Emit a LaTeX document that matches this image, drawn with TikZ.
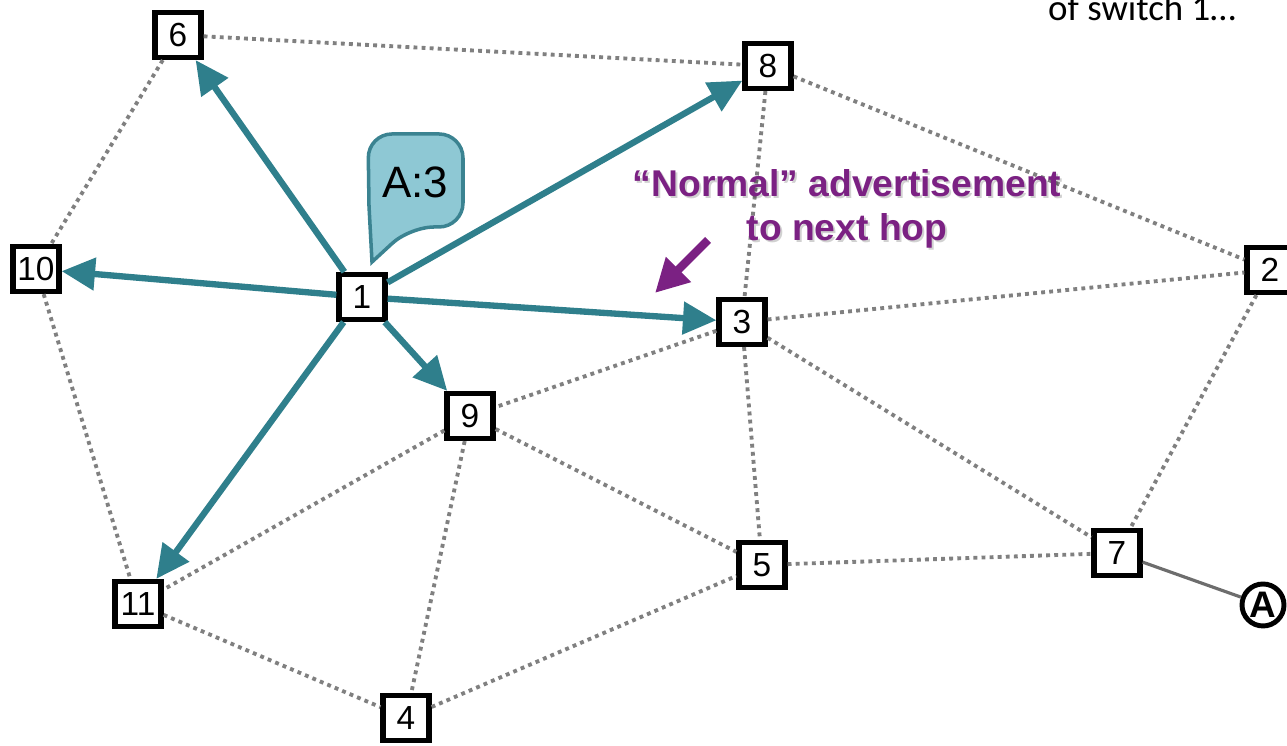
\documentclass[tikz,border=0pt]{standalone}
\usepackage{fontspec}
\setmainfont{Liberation Sans}
\newfontfamily\notefont{Carlito}
\usetikzlibrary{positioning,arrows.meta,shapes}

\definecolor{advteal}{RGB}{47,127,140}
\definecolor{bubblefill}{RGB}{142,200,212}
\definecolor{bubbleline}{RGB}{59,131,145}
\definecolor{linkgray}{RGB}{128,128,128}
\definecolor{hintpurple}{RGB}{123,33,131}

\begin{document}
\begin{tikzpicture}[
	%	style def
    switch/.style={draw=black, line width=1.5pt, fill=white, minimum width=0.46cm, minimum height=0.45cm, inner sep=0pt, font=\fontsize{9.5}{10}\selectfont},
    host/.style={draw=black, line width=1.4pt, fill=white, circle, minimum size=0.42cm, inner sep=0pt, font=\bfseries\fontsize{10.5}{11}\selectfont},
    link/.style={draw=linkgray, line width=1.1pt, dash pattern=on 1.1pt off 1.2pt},
    adv line/.style={draw=advteal, line width=1.8pt, -{Triangle[length=9.5pt,width=9pt]}},
    hint arrow/.style={draw=hintpurple, line width=2.4pt, -{Triangle[length=9.5pt,width=9.5pt]}},
    bubble/.style={draw=bubbleline, fill=bubblefill, line width=1pt}
    ]
    \useasboundingbox (0,0) rectangle (12.87,7.46);

	% switches
    \node[switch] (n6)  at (1.78,7.11) {6};
    \node[switch] (n8)  at (7.68,6.80) {8};
    \node[switch] (n10) at (0.36,4.77) {10};
    \node[switch] (n1)  at (3.62,4.49) {1};
    \node[switch] (n2)  at (12.70,4.76) {2};
    \node[switch] (n3)  at (7.42,4.24) {3};
    \node[switch] (n9)  at (4.70,3.30) {9};
    \node[switch] (n11) at (1.38,1.42) {11};
    \node[switch] (n5)  at (7.62,1.81) {5};
    \node[switch] (n7)  at (11.17,1.93) {7};
    \node[switch] (n4)  at (4.06,0.28) {4};
    \node[host]   (hostA) at (12.63,1.41) {A};

    % links (dotted)
    \draw[link] (n6) -- (n8);
    \draw[link] (n6) -- (n10);
    \draw[link] (n10) -- (n11);
    \draw[link] (n8) -- (n3);
    \draw[link] (n8) -- (n2);
    \draw[link] (n3) -- (n2);
    \draw[link] (n3) -- (n9);
    \draw[link] (n3) -- (n5);
    \draw[link] (n3) -- (n7);
    \draw[link] (n2) -- (n7);
    \draw[link] (n9) -- (n11);
    \draw[link] (n9) -- (n4);
    \draw[link] (n9) -- (n5);
    \draw[link] (n11) -- (n4);
    \draw[link] (n4) -- (n5);
    \draw[link] (n5) -- (n7);
    \draw[draw=linkgray!85!black, line width=0.9pt] (n7) -- (hostA);

    % advertisements sent by switch 1
    \foreach \dst in {n6,n8,n10,n3,n9,n11}
        \draw[adv line] (n1) -- (\dst);

    % speech bubble above switch 1
    \draw[bubble] (3.72,4.84) -- (3.69,5.40) [rounded corners=0.24cm] -- (3.68,6.12) -- (4.63,6.12) -- (4.63,5.19) -- (4.10,5.19) [sharp corners] -- cycle;
    \node[font=\fontsize{12.5}{13}\selectfont] (adv) at (4.15,5.64) {A:3};

    % note with its arrow
    \node[align=center, text=black, opacity=0.18, font=\bfseries\fontsize{10.6}{12.3}\selectfont] (advnote shadow) at (8.49,5.35) {“Normal” advertisement\\to next hop};
    \node[align=center, text=hintpurple, font=\bfseries\fontsize{10.6}{12.3}\selectfont] (advnote) at (8.47,5.37) {“Normal” advertisement\\to next hop};
    \coordinate (hint tail) at (7.08,5.06);
    \coordinate (hint tip) at (6.55,4.53);
    \draw[hint arrow] (hint tail) -- (hint tip);

    \node[anchor=base, font=\notefont\fontsize{10.5}{12}\selectfont] (caption) at (11.42,7.25) {of switch 1…};

\end{tikzpicture}
\end{document}
